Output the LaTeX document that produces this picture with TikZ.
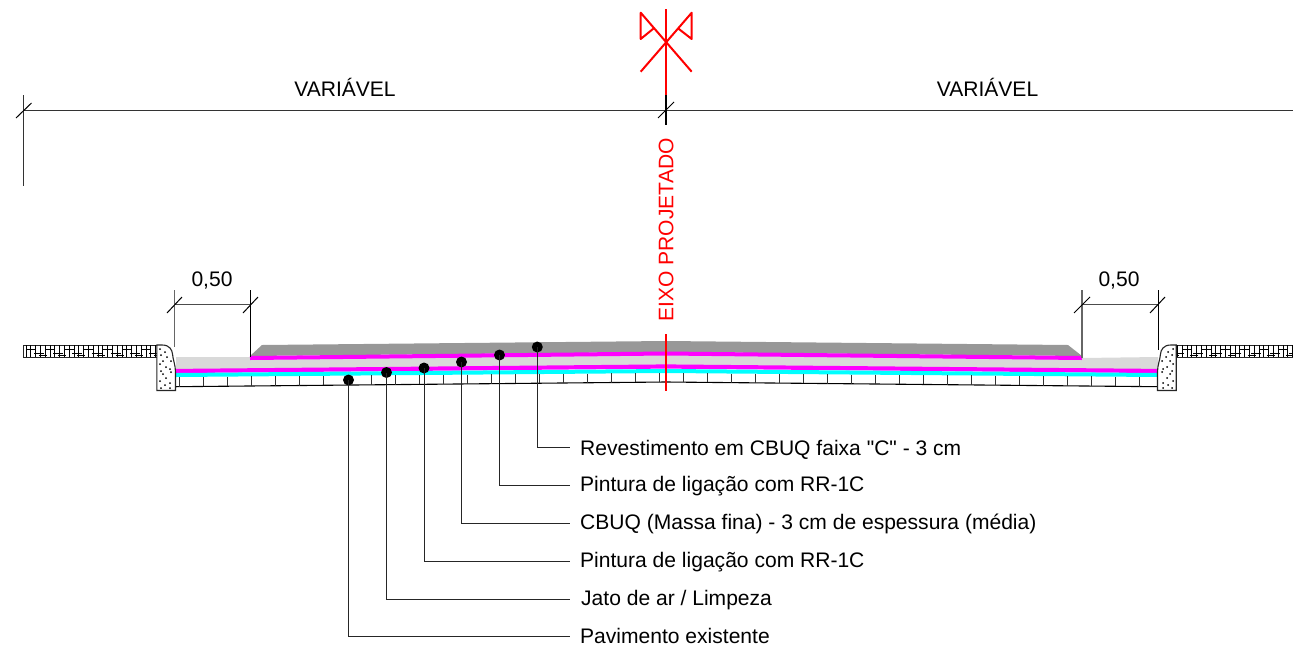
\documentclass[tikz,border=0pt]{standalone}
\usepackage{fontspec}
\setmainfont[Ligatures=TeXOff]{Liberation Sans}
\definecolor{dgray}{RGB}{152,152,152}
\definecolor{lgray}{RGB}{217,217,217}
\definecolor{mag}{RGB}{255,0,255}
\definecolor{cya}{RGB}{0,255,255}
\tikzset{
 lbl/.style={font=\fontsize{21.05}{23}\selectfont,inner sep=0pt,text=black},
 callout/.style={lbl,anchor=west,inner xsep=10pt,inner ysep=0pt,text depth=4pt,text height=#1},
 dot/.style={circle,fill=black,minimum size=11pt,inner sep=0pt},
 leader/.style={draw=black!85,line width=1pt},
 dimline/.style={draw=black!80,line width=1pt},
 hatch/.style={draw=black,line width=0.8pt},
 redl/.style={draw=red,line width=2pt}
}
\begin{document}
\begin{tikzpicture}[x=1pt,y=-1pt]
\useasboundingbox (0,0) rectangle (1293,651);
% layers
\fill[lgray] (176,357) -- (250,357) -- (250,358) -- (666,353.5) -- (1082,358) -- (1158,357) -- (1158,373) -- (666,367) -- (176,373) -- cycle;
\fill[dgray] (250,356) -- (262,345) -- (666,341) -- (1068,345) -- (1082,356) -- (666,352) -- cycle;
\draw[mag,line width=4pt] (250,358) -- (666,353.5) -- (1082,358);
\draw[mag,line width=4.2pt] (176,371) -- (666,366.5) -- (1158,371);
\draw[cya,line width=4pt] (176,375) -- (666,371) -- (1158,375);
% pavement
\draw[black,line width=1.1pt] (176,386.7) -- (666,382) -- (1158,386.7);
\foreach \k in {0,...,40}{
  \pgfmathsetmacro{\tx}{179.3+24*\k}
  \pgfmathsetmacro{\tt}{abs(\tx-666)/490}
  \draw[black!80,line width=0.9pt] (\tx,373+4*\tt) -- (\tx,382+4.7*\tt);
}
% kerbs
\foreach \m/\o in {1/0,-1/1333}{
\begin{scope}[shift={(\o,0)},x=\m pt]
 \draw[black!85,line width=1pt] (23.5,345) rectangle (157,357.3);
 \foreach \k in {0,...,27}{
   \pgfmathsetmacro{\hx}{26+4.8*\k}
   \draw[hatch] (\hx,345) -- (\hx,357);
 }
 \foreach \k in {0,...,6}{
   \pgfmathsetmacro{\hx}{26+19.2*\k}
   \draw[hatch] (\hx,349) -- (\hx+10,349);
   \draw[hatch] (\hx+8,353) -- (\hx+18,353);
   \draw[hatch] (\hx+13,355.5) -- (\hx+21,355.5);
 }
 \draw[black!85,line width=1.1pt,fill=white] (156.8,390.5) -- (156.8,345) -- (162,345) .. controls (170,345) and (172,350) .. (172.5,354) .. controls (173,360) and (175.5,365) .. (175.5,372) -- (175.5,390.5) -- cycle;
 \foreach \px/\py in {160/349,165/352,161/355,167/357,163/361,171/361,160/364,166/367,170/369,161/371,163/374,171/372,166/378,160/381,170/383,161/388,170/388,165/385}{
   \fill[black] (\px,\py) circle (1pt);
 }
\end{scope}
}
% top dimension
\coordinate (dl) at (23,110);
\coordinate (dr) at (1293,110);
\draw[dimline] (dl) -- (dr);
\draw[dimline] (23.5,95) -- (23.5,186);
\draw[black,line width=1pt] (16,118) -- (31.5,103);
\draw[black,line width=1pt] (658,118) -- (674,102);
\node[lbl] (v1) at (345,87) {VARIÁVEL};
\node[lbl] (v2) at (987.5,87) {VARIÁVEL};
% axis symbol
\draw[redl] (666,9) -- (666,95);
\draw[black,line width=2pt] (666,95) -- (666,125);
\draw[redl,line join=round] (653.3,28.7) -- (640.7,39) -- (640.7,12.7) -- (691.7,71.7);
\draw[redl,line join=round] (678.5,28.7) -- (691.7,39) -- (691.7,12.7) -- (640.7,71.7);
\node[lbl,text=red,rotate=90] (eixo) at (666,230) {EIXO PROJETADO};
\draw[draw=red,line width=2pt] (666,334) -- (666,390.7);
% small dims
\draw[draw=black!60,line width=1.1pt] (174.7,290) -- (174.7,347);
\draw[draw=black,line width=0.9pt] (250,290) -- (250,357);
\draw[draw=black!70,line width=1pt] (175,304.3) -- (250,304.3);
\draw[black,line width=1pt] (167,313) -- (182,297) (243,313) -- (258,297);
\node[lbl] (d1) at (212,280) {0,50};
\draw[draw=black!60,line width=1.1pt] (1082,290) -- (1082,358);
\draw[draw=black,line width=0.9pt] (1158,290) -- (1158,350);
\draw[draw=black!70,line width=1pt] (1082,304.3) -- (1158,304.3);
\draw[black,line width=1pt] (1074,313) -- (1090,297) (1150,313) -- (1165,297);
\node[lbl] (d2) at (1119,280) {0,50};
% callouts
\node[dot] (a) at (537.3,347) {};
\node[dot] (b) at (499.5,355) {};
\node[dot] (c) at (461.5,362) {};
\node[dot] (d) at (424,368) {};
\node[dot] (e) at (386.5,372.5) {};
\node[dot] (f) at (348.5,380) {};
\node[callout=18.6pt] (ta) at (570,447.7) {Revestimento em CBUQ faixa "C" - 3 cm};
\node[callout=14.6pt] (tb) at (570,485.7) {Pintura de ligação com RR-1C};
\node[callout=15.4pt] (tc) at (570,523.3) {CBUQ (Massa fina) - 3 cm de espessura (média)};
\node[callout=15.4pt] (td) at (570,561.3) {Pintura de ligação com RR-1C};
\node[callout=17pt] (te) at (570,599) {\kern1pt Jato de ar / Limpeza};
\node[callout=16.6pt] (tf) at (570,636.7) {Pavimento existente};
\foreach \s/\t in {a/ta,b/tb,c/tc,d/td,e/te,f/tf}{
  \draw[leader] (\s.center) |- (\t.west);
}
\end{tikzpicture}
\end{document}
